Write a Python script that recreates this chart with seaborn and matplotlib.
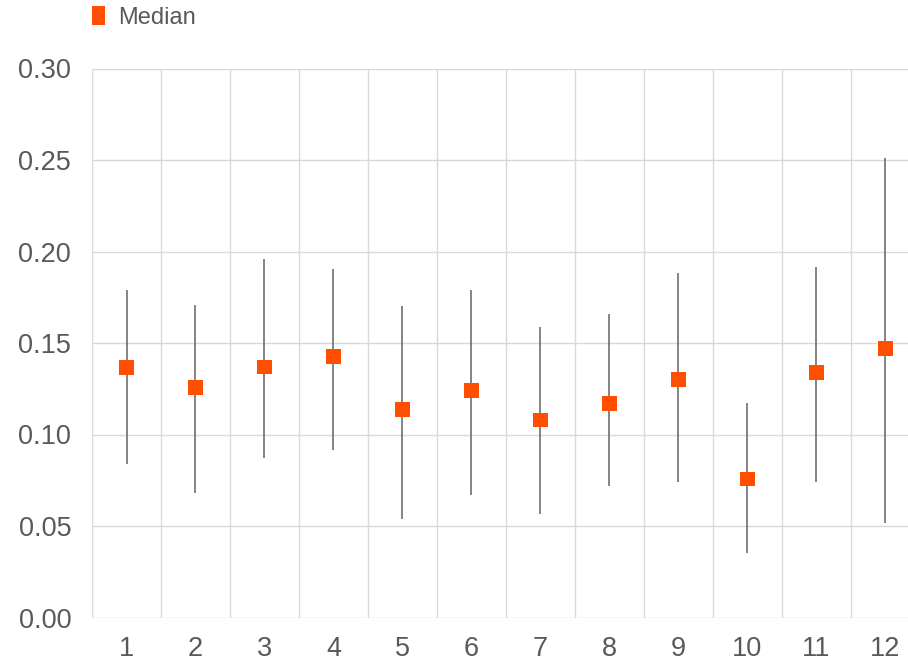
import pandas as pd
import matplotlib.pyplot as plt
import seaborn as sns
from matplotlib.patches import Rectangle

# values
months = [1, 2, 3, 4, 5, 6, 7, 8, 9, 10, 11, 12]
median = [0.1366, 0.1257, 0.137, 0.1426, 0.1137, 0.124, 0.108, 0.117, 0.130, 0.0758, 0.1338, 0.1469]
upper = [0.179, 0.1705, 0.196, 0.1907, 0.170, 0.1787, 0.1585, 0.166, 0.188, 0.117, 0.1915, 0.251]
lower = [0.084, 0.0683, 0.0874, 0.0913, 0.0536, 0.0672, 0.0568, 0.0721, 0.0743, 0.0354, 0.0742, 0.0515]
y_ticks = [0.0, 0.05, 0.10, 0.15, 0.20, 0.25, 0.30]

df = pd.DataFrame({'month': months, 'median': median, 'upper': upper, 'lower': lower})

sns.set_theme(style="white")
plt.rcParams['font.family'] = ['Liberation Sans', 'DejaVu Sans']

fig = plt.figure(figsize=(9.08, 6.62), dpi=100)
ax = fig.add_axes([92 / 908, 1 - 617.5 / 662, 828 / 908, 549 / 662])

text_color = '#595959'
grid_color = '#d9d9d9'
orange = '#ff4e00'

# whiskers
ax.vlines(df['month'], df['lower'], df['upper'], color='#6f6f6f', linewidth=1.2, zorder=2)

sns.scatterplot(data=df, x='month', y='median', marker='s', s=110, color=orange,
                edgecolor='none', linewidth=0, ax=ax, zorder=3, legend=False)

# gridlines between categories
for b in [m + 0.5 for m in [0] + months]:
    ax.axvline(b, color=grid_color, linewidth=1, zorder=0)
for t in y_ticks:
    ax.axhline(t, color=grid_color, linewidth=1, zorder=0)

ax.set_xlim(0.5, 12.5)
ax.set_ylim(0, 0.30)
ax.set_xticks(months)
ax.set_xticklabels([str(m) for m in months])
ax.set_yticks(y_ticks)
ax.set_yticklabels([f'{t:.2f}' for t in y_ticks])
ax.tick_params(axis='both', length=0, labelsize=19.5, labelcolor=text_color)
ax.tick_params(axis='y', pad=15)
ax.tick_params(axis='x', pad=13)
ax.set_xlabel('')
ax.set_ylabel('')
for s in ax.spines.values():
    s.set_visible(False)

# legend at the top left
fig.patches.append(Rectangle((92 / 908, 1 - 25 / 662), 13 / 908, 19 / 662,
                             transform=fig.transFigure, color=orange, linewidth=0))
fig.text(118 / 908, 1 - 17.5 / 662, 'Median', color=text_color, fontsize=17, ha='left', va='center')

plt.savefig('out.png', dpi=100)
plt.close()
